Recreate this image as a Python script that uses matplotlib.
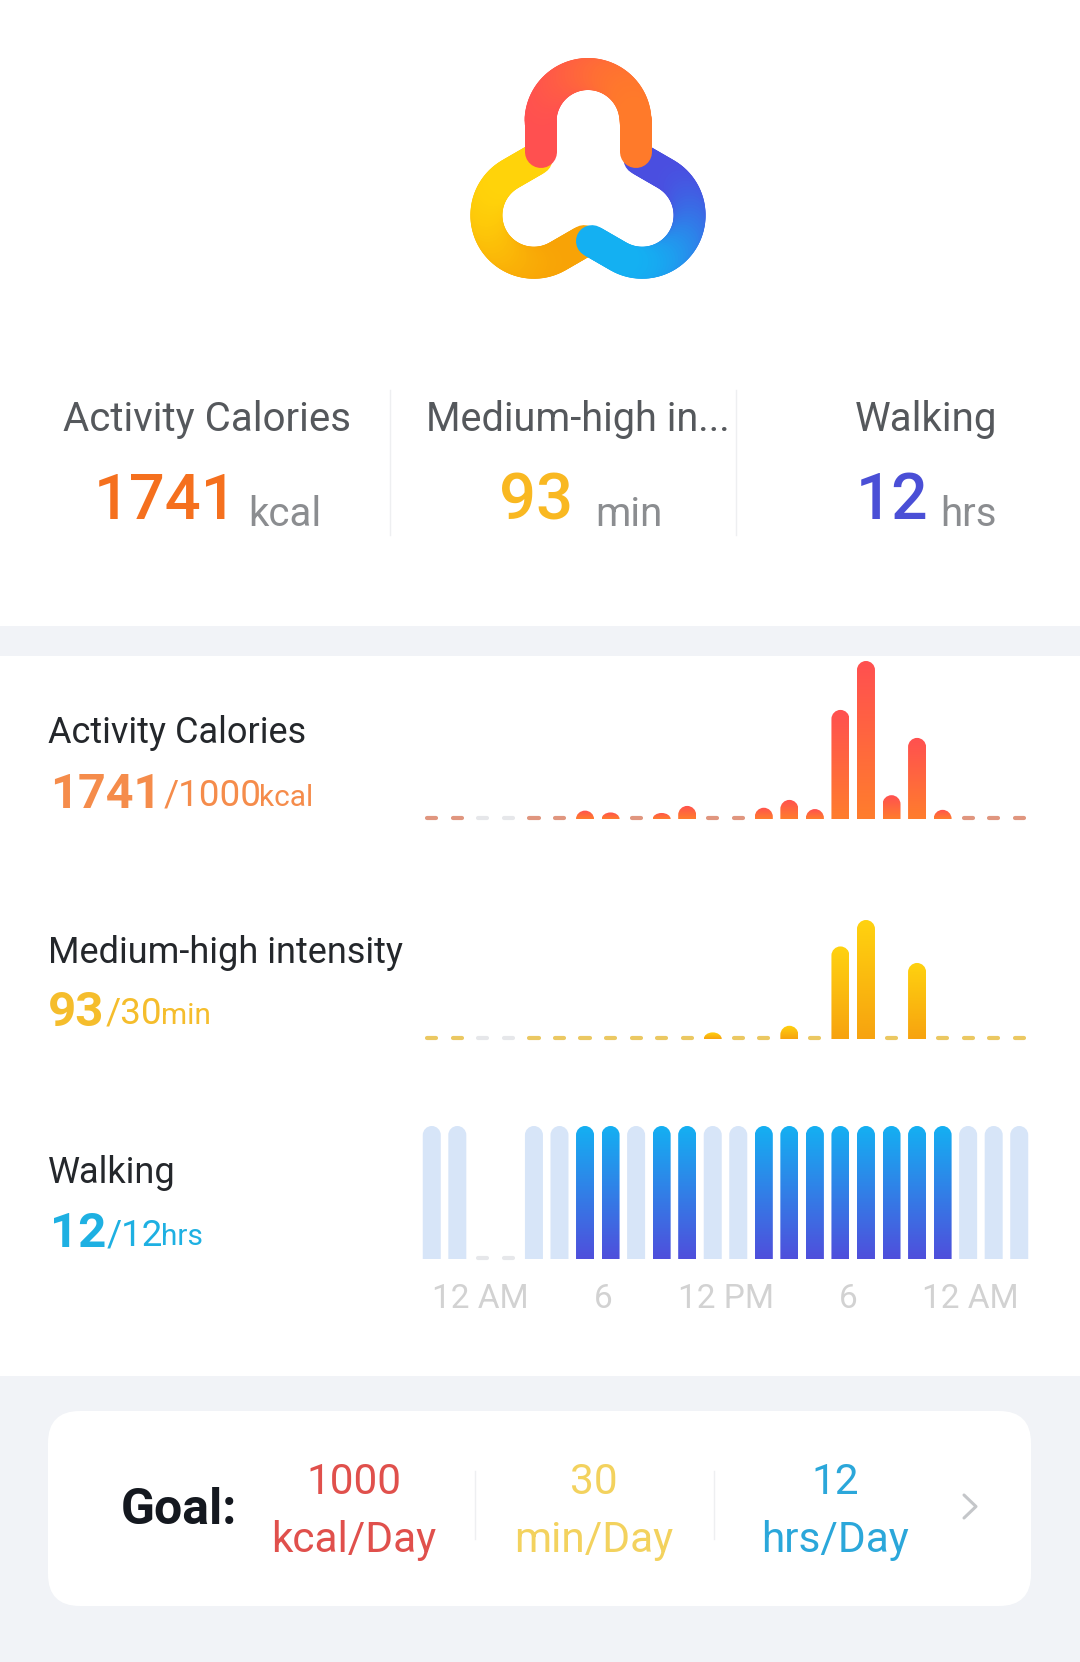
#!/usr/bin/env python3
"""Daily activity summary card: logo, totals, hourly bars and goals."""

import numpy as np
import matplotlib
matplotlib.use('Agg')
import matplotlib.pyplot as plt
from matplotlib.collections import LineCollection
from matplotlib.colors import LinearSegmentedColormap, to_rgb
from matplotlib.patches import FancyBboxPatch, PathPatch, Rectangle
from matplotlib.path import Path

plt.rcParams['font.family'] = ['Roboto', 'DejaVu Sans']

W, H = 1080, 1662
NAN = float('nan')

# hourly values, nan = no data for that hour
hours = list(range(24))
calories = [0, 0, NAN, NAN, 0, 0, 32, 25, 0, 23, 50, 0,
            0, 43, 73, 38, 417, 604, 91, 310, 35, 0, 0, 0]
intensity = [0, 0, NAN, NAN, 0, 0, 0, 0, 0, 0, 0, 2,
             0, 0, 4, 0, 28, 36, 0, 23, 0, 0, 0, 0]
walking = [0, 0, NAN, NAN, 0, 0, 1, 1, 0, 1, 1, 0,
           0, 1, 1, 1, 1, 1, 1, 1, 1, 0, 0, 0]

tick_positions = [1.9, 6.7, 11.5, 16.3, 21.1]
tick_labels = ['12 AM', '6', '12 PM', '6', '12 AM']

goal_values = ['1000', '30', '12']
goal_units = ['kcal/Day', 'min/Day', 'hrs/Day']

BAR_PX = 18
GREY = '#8b8d90'
BAND = '#f1f3f7'


def px_axes(fig, left, top, right, bottom):
    """Axes placed by pixel edges, y measured from the top of the image."""
    return fig.add_axes([left / W, 1 - bottom / H, (right - left) / W, (bottom - top) / H])


def rounded_bar(x, h, half_w, ry):
    """Outline of a bar with a rounded top."""
    ry = min(ry, h)
    k = 0.5523
    verts = [(x - half_w, 0), (x - half_w, h - ry),
             (x - half_w, h - ry + k * ry), (x - k * half_w, h), (x, h),
             (x + k * half_w, h), (x + half_w, h - ry + k * ry), (x + half_w, h - ry),
             (x + half_w, 0), (x - half_w, 0)]
    codes = [Path.MOVETO, Path.LINETO, Path.CURVE4, Path.CURVE4, Path.CURVE4,
             Path.CURVE4, Path.CURVE4, Path.CURVE4, Path.LINETO, Path.CLOSEPOLY]
    return Path(verts, codes)


def draw_bars(ax, values, top_color, bottom_color, dash_color, ymax, pale_color=None):
    cmap = LinearSegmentedColormap.from_list('bar', [bottom_color, top_color])
    grad = np.linspace(1, 0, 80)[:, None]
    bbox = ax.get_position()
    px_per_x = bbox.width * W / 24
    px_per_y = bbox.height * H / ymax
    half_w = BAR_PX / 2 / px_per_x
    ry = BAR_PX / 2 / px_per_y

    for x, v in zip(hours, values):
        if np.isnan(v):
            ax.plot([x - 0.18, x + 0.18], [1.0 / px_per_y] * 2, color='#e6e7ea', lw=3,
                    solid_capstyle='round', clip_on=False)
        elif v == 0 and pale_color is not None:
            ax.add_patch(PathPatch(rounded_bar(x, ymax, half_w, ry), fc=pale_color, ec='none'))
        elif v == 0:
            ax.plot([x - 0.18, x + 0.18], [1.0 / px_per_y] * 2, color=dash_color, lw=3,
                    solid_capstyle='round', clip_on=False)
        else:
            outline = PathPatch(rounded_bar(x, v, half_w, ry), fc='none', ec='none')
            ax.add_patch(outline)
            im = ax.imshow(grad, cmap=cmap, aspect='auto', vmin=0, vmax=1,
                           extent=[x - half_w, x + half_w, 0, v], zorder=2)
            im.set_clip_path(outline)

    ax.set_xlim(-0.5, 23.5)
    ax.set_ylim(0, ymax)
    ax.patch.set_alpha(0)
    for s in ax.spines.values():
        s.set_visible(False)
    ax.set_xticks([])
    ax.set_yticks([])


def draw_logo(ax):
    """Three identical rounded pieces rotated about the logo centre."""
    cx, cy = 588, 184
    r = 47.5
    top = 58 + 16 + r
    theta = np.linspace(np.pi, 2 * np.pi, 50)
    xs = np.concatenate([np.full(12, cx - r), cx + r * np.cos(theta), np.full(12, cx + r)])
    ys = np.concatenate([np.linspace(152, top, 12), top + r * np.sin(theta),
                         np.linspace(top, 152, 12)])
    t = (xs - xs.min()) / (xs.max() - xs.min())

    pieces = [(240, '#f8a306', '#ffd30a'), (120, '#4a4ee0', '#14b0f2'), (0, '#ff5050', '#ff7a2a')]
    for angle, c0, c1 in pieces:
        a = np.radians(angle)
        dx, dy = xs - cx, ys - cy
        rx = cx + dx * np.cos(a) - dy * np.sin(a)
        ry = cy + dx * np.sin(a) + dy * np.cos(a)
        pts = np.column_stack([rx, ry])
        segs = np.stack([pts[:-1], pts[1:]], axis=1)
        c0, c1 = np.array(to_rgb(c0)), np.array(to_rgb(c1))
        colors = [c0 + (c1 - c0) * v for v in t[:-1]]
        ax.add_collection(LineCollection(segs, colors=colors, linewidths=32 * 0.72,
                                         capstyle='round', zorder=3))


fig = plt.figure(figsize=(W / 100, H / 100), dpi=100, facecolor='white')

# page layer in pixel coordinates
bg = fig.add_axes([0, 0, 1, 1])
bg.set_xlim(0, W)
bg.set_ylim(H, 0)
bg.axis('off')

bg.add_patch(Rectangle((0, 626), W, 30, fc=BAND, ec='none'))
bg.add_patch(Rectangle((0, 1376), W, H - 1376, fc=BAND, ec='none'))
bg.add_patch(FancyBboxPatch((48, 1411), 983, 195, boxstyle='round,pad=0,rounding_size=32',
                            fc='white', ec='none'))
for x in (390, 736):
    bg.plot([x, x], [390, 535], color='#eeeff1', lw=1)
for x in (475, 714):
    bg.plot([x, x], [1471, 1539], color='#eeeff1', lw=1)

draw_logo(bg)


def label(x, y, s, size, color, weight='normal', ha='left'):
    bg.text(x, y, s, fontsize=size, color=color, fontweight=weight, ha=ha, va='baseline')


# header totals
label(207, 431, 'Activity Calories', 29, '#55585c', ha='center')
label(578, 431, 'Medium-high in...', 28.5, '#55585c', ha='center')
label(926, 431, 'Walking', 29, '#55585c', ha='center')
label(94, 519, '1741', 45.5, '#f5701e', 'medium')
label(248, 526, 'kcal', 29, GREY)
label(499, 519, '93', 47, '#f9b821', 'medium')
label(595, 526, 'min', 29, GREY)
label(856, 519, '12', 46, '#4a4fd6', 'medium')
label(940, 526, 'hrs', 29, GREY)

# row labels
label(48, 743, 'Activity Calories', 26, '#24272b')
label(50, 808, '1741', 35, '#f58c4b', 'bold')
label(164, 806, '/1000', 26.5, '#f58c4b')
label(259, 806, 'kcal', 21.5, '#f58c4b')

label(48, 963, 'Medium-high intensity', 26, '#24272b')
label(48, 1026, '93', 35.5, '#f5bd2c', 'bold')
label(106, 1024, '/30', 26.5, '#f5bd2c')
label(161, 1024, 'min', 21.5, '#f5bd2c')

label(48, 1183, 'Walking', 26, '#24272b')
label(50, 1247, '12', 35.5, '#1eb0e2', 'bold')
label(107, 1245, '/12', 26.5, '#1eb0e2')
label(161, 1245, 'hrs', 21.5, '#1eb0e2')

# charts
ax_cal = px_axes(fig, 419, 661, 1032, 819)
draw_bars(ax_cal, calories, '#ff5050', '#ff7d2d', '#e0967f', 604)

ax_int = px_axes(fig, 419, 920, 1032, 1039)
draw_bars(ax_int, intensity, '#ffd20f', '#f7a30f', '#ebc862', 36)

ax_walk = px_axes(fig, 419, 1126, 1032, 1259)
draw_bars(ax_walk, walking, '#14b0f2', '#4f4fdc', '#e6e7ea', 1, pale_color='#d7e5f8')
ax_walk.set_xticks(tick_positions)
ax_walk.set_xticklabels(tick_labels, fontsize=24, color='#d2d2d2')
ax_walk.tick_params(axis='x', length=0, pad=17)

# goal card
label(121, 1524, 'Goal:', 36, '#14181f', 'bold')
goal_x = [354, 594, 835]
goal_colors = ['#e0504c', '#f3d25e', '#2ba7da']
for x, v, u, c in zip(goal_x, goal_values, goal_units, goal_colors):
    label(x, 1494, v, 30.5, c, ha='center')
    label(x, 1552, u, 30.5, c, ha='center')
bg.plot([964, 976, 964], [1495, 1506.5, 1518], color='#c4c6c9', lw=2.2,
        solid_capstyle='round', solid_joinstyle='round')

fig.savefig('out.png', dpi=100)
